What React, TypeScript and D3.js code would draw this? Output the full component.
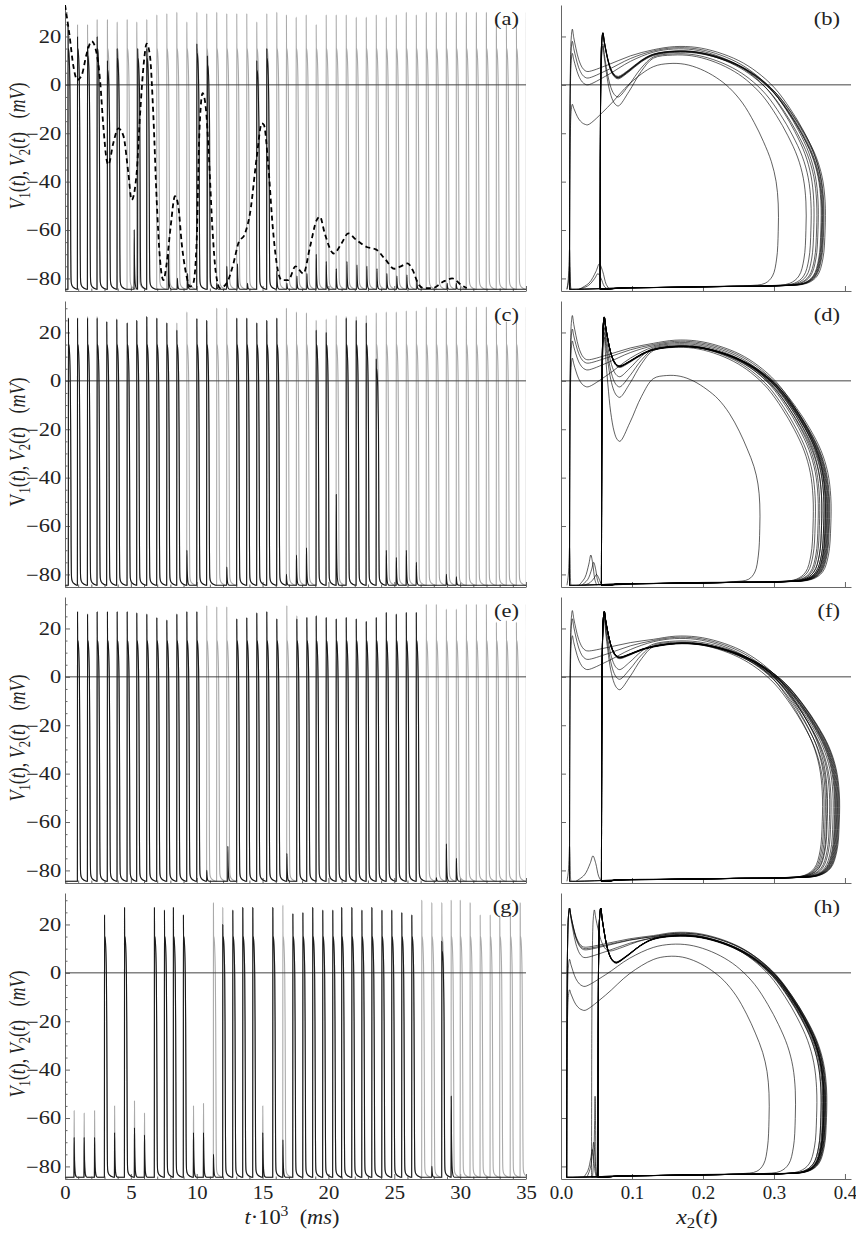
import { useEffect, useRef } from 'react';
import * as d3 from 'd3';

const W = 856;
const H = 1233;
const SERIF = '"Liberation Serif", "Times New Roman", serif';
const REST = -84.5;

// ---- panel (a): t in 10^3 ms, V in mV ----
const aGrayT = [0.22, 0.94, 1.70, 2.43, 3.21, 3.95, 4.71, 5.44, 6.20, 6.96, 7.72, 8.48, 9.24, 10.00, 10.75, 11.51, 12.27, 13.03, 13.79, 14.55, 15.31, 16.07, 16.80, 17.54, 18.30, 19.06, 19.82, 20.58, 21.34, 22.10, 22.86, 23.62, 24.38, 25.14, 25.90, 26.66, 27.42, 28.18, 28.94, 29.70, 30.46, 31.22, 31.98, 32.74, 33.50, 34.26, 35.02];
const aGrayV = [25, 25, 25, 27, 27, 26, 27, 26, 27, 29, 29.5, 30, 26, 30, 29.5, 30, 29.5, 29.5, 29.5, 26, 29.5, 30, 29, 28, 29, 25, 29, 29, 29, 28, 28, 29, 28, 29, 30, 29, 30, 30, 30, 30, 30, 30, 30, 25.5, 25, 25, 30];
const aBlackT = [0.22, 0.94, 1.70, 2.43, 3.21, 3.95, 5.24, 5.51, 6.20, 7.84, 8.52, 9.29, 10.00, 10.80, 11.51, 12.27, 13.08, 13.84, 14.55, 15.31, 16.07, 16.83, 17.59, 18.35, 19.06, 19.82, 20.58, 21.39, 22.15, 22.90, 23.67, 24.42, 25.18, 25.94, 26.70, 29.00, 29.69];
const aBlackV = [25, 20, 16, 20, 10, 15, -60, 15, 15, -70, -80, -78, 17, 12, -82, -75, -74, -82, 10, 15, -77, -82, -79, -78, -70, -73, -76, -73, -74.5, -75, -76, -78, -79, -78.6, -80.7, -82, -82];
const dashT = [0, 0.33, 0.64, 0.93, 1.27, 1.65, 2.03, 2.4, 2.66, 2.91, 3.16, 3.29, 3.67, 4.05, 4.43, 4.81, 5.06, 5.44, 5.69, 6.0, 6.2, 6.45, 6.71, 6.96, 7.21, 7.47, 7.72, 8.02, 8.35, 8.6, 8.86, 9.19, 9.49, 9.74, 10.0, 10.2, 10.45, 10.7, 10.9, 11.2, 11.46, 11.77, 12.27, 12.78, 13.16, 13.67, 14.05, 14.56, 14.94, 15.1, 15.44, 15.77, 16.07, 16.45, 16.96, 17.5, 18.1, 18.6, 19.1, 19.36, 19.7, 20.4, 21.0, 21.5, 22.1, 22.9, 23.6, 24.3, 25.0, 25.5, 26.0, 26.4, 26.8, 27.2, 27.9, 28.7, 29.4, 30.1, 30.5];
const dashV = [33, 21, 7.6, 2, 4, 13, 18, 13, 2, -17, -31, -33, -24, -18, -21, -36.5, -47.6, -36.5, -13, 10, 17, 12, -13, -47.6, -72, -80.7, -73.8, -58.6, -46, -50, -65.5, -78, -83.4, -82, -64, -20, -3.4, -10, -27, -60, -78, -84, -82, -74, -65.5, -61.4, -53, -29.7, -15.9, -16.5, -33.8, -58.6, -73.8, -80.7, -80.7, -75, -78, -67, -56, -54.5, -61, -69.7, -65.5, -61.4, -64, -67, -68, -72, -76, -75, -73.8, -76.6, -82, -84, -84, -81.4, -80, -82.8, -84];

// ---- panel (c) ----
const cGrayT = [0.25, 0.94, 1.70, 2.43, 3.16, 3.92, 4.71, 5.44, 6.20, 6.96, 7.72, 8.48, 9.24, 10.00, 10.75, 11.51, 12.27, 13.03, 13.79, 14.55, 15.31, 16.07, 16.80, 17.56, 18.32, 19.06, 19.82, 20.58, 21.34, 22.10, 22.86, 23.62, 24.38, 25.14, 25.90, 26.66, 27.42, 28.18, 28.94, 29.70, 30.46, 31.22, 31.98, 32.74, 33.50, 34.26, 35.02];
const cGrayV = [26, 26, 26.5, 26.5, 24.5, 25.5, 24, 25, 26.5, 26, 24, 24, 28.5, 25.8, 25, 30, 30, 26, 26, 24, 25, 26, 30, 28.5, 28, 25, 25.5, 27, 26.5, 26.5, 27, 28, 28.5, 28.5, 29, 29, 30.5, 30, 30, 30.5, 30.5, 30.5, 30.5, 24.5, 24.5, 24.5, 30.5];
const cBlackT = [0.25, 0.94, 1.70, 2.43, 3.16, 3.92, 4.71, 5.44, 6.20, 6.96, 7.72, 8.48, 9.24, 10.00, 10.75, 12.27, 13.03, 13.79, 14.55, 15.31, 16.07, 16.80, 17.56, 18.32, 19.06, 19.82, 20.58, 21.34, 22.10, 22.86, 23.62, 24.38, 25.14, 25.90, 26.66, 28.94, 29.70];
const cBlackV = [26, 26, 26, 26, 24.5, 25.5, 24, 25, 26.5, 26, 24, 21, -70, 25.8, 25, -77, 26, 26, 24, 25, 26, -80, -72, -69, 21, 20, -47, 26, 25, 24, 9, -70, -73, -70, -75, -80, -81];

// ---- panel (e) ----
const eGrayT = [0.94, 1.70, 2.43, 3.21, 3.95, 4.71, 5.44, 6.20, 6.96, 7.72, 8.48, 9.24, 10.00, 10.75, 11.51, 12.27, 13.03, 13.79, 14.55, 15.31, 16.07, 16.83, 17.59, 18.35, 19.06, 19.82, 20.58, 21.34, 22.10, 22.86, 23.62, 24.38, 25.14, 25.90, 26.66, 27.42, 28.18, 28.94, 29.70, 30.46, 31.22, 31.98, 32.74, 33.50, 34.26, 35.02];
const eGrayV = [27, 26, 27, 27, 27, 27, 26.5, 26, 24.5, 23.5, 26, 27, 27, 29.5, 29, 29, 24, 24.5, 26.5, 27, 24, 29.5, 25.3, 24.6, 25.3, 24.6, 24, 24.6, 24, 23, 24.6, 26.7, 26, 26.7, 26.7, 30, 30, 28, 28, 30, 30, 30, 22.6, 23.3, 22.6, 30];
const eBlackT = [0.94, 1.70, 2.43, 3.21, 3.95, 4.71, 5.44, 6.20, 6.96, 7.72, 8.48, 9.24, 10.00, 10.75, 12.35, 13.03, 13.79, 14.55, 15.31, 16.07, 16.83, 17.59, 18.35, 19.06, 19.82, 20.58, 21.34, 22.10, 22.86, 23.62, 24.38, 25.14, 25.90, 26.66, 28.18, 28.94, 29.70];
const eBlackV = [27, 26, 27, 27, 27, 27, 26.5, 26, 24.5, 23.5, 26, 27, 27, -80, -70, 24, 24.5, 26.5, 27, 24, -73, 24, 24.6, 25.3, 24.6, 24, 24.6, 24, 23, 24.6, 26.7, 26, 26.7, 26.7, -83, -69, -75];

// ---- panel (g) ----
const gGrayT = [0.68, 1.44, 2.23, 2.99, 3.75, 4.51, 5.26, 6.02, 6.78, 7.54, 8.22, 8.98, 9.74, 10.50, 11.26, 11.97, 12.73, 13.49, 14.25, 15.00, 15.77, 16.53, 17.29, 18.05, 18.80, 19.56, 20.32, 21.00, 21.77, 22.53, 23.29, 24.05, 24.80, 25.56, 26.32, 27.08, 27.84, 28.60, 29.31, 30.00, 30.75, 31.51, 32.27, 33.00, 33.80, 34.55];
const gGrayV = [-57, -58, -57, 24, -55, 27, -53, -58, 27, 26, 27, 24, -55, -54, 29, 27, 26, 27, 27, -55, 27, 28, 24.5, 25, 27, 26, 26, 27, 27, 26, 27, 26, 26, 25, 24, 30, 29, 29, 30, 30, 29, 24, 24, 23.5, 24, 29];
const gBlackT = [0.68, 1.44, 2.23, 2.99, 3.75, 4.51, 5.26, 6.02, 6.78, 7.54, 8.22, 8.98, 9.74, 10.50, 11.26, 11.97, 12.73, 13.49, 14.25, 15.00, 15.77, 16.53, 17.29, 18.05, 18.80, 19.56, 20.32, 21.00, 21.77, 22.53, 23.29, 24.05, 24.80, 25.56, 26.32, 27.84, 28.60, 29.31];
const gBlackV = [-68, -68, -68, 24, -66, 27, -64, -67, 27, 26, 27, 24, -66, -66, -75, 20, 26, 27, 27, -66, 27, -69, 24.5, 25, 27, 26, 26, 27, 27, 26, 27, 26, 26, 25, 24, -80, 13, -51];

// action potential waveform: [dt, V, mode]
// mode 0 = absolute V, 1 = offset from tip, 2 = offset from plateau
const spikeShape = [[0, REST, 0], [0.006, -40, 0], [0.012, 0, 1], [0.02, -2, 2], [0.04, 0, 2], [0.08, -2, 2], [0.12, -7, 2], [0.155, -17, 2], [0.18, -20, 0], [0.2, -45, 0], [0.215, -68, 0], [0.23, -78, 0], [0.25, -81.5, 0], [0.3, -82.8, 0], [0.4, -83.6, 0], [0.55, -84.2, 0], [0.7, REST, 0]];
// subthreshold bump: [dt, fraction of peak height]
const bumpShape = [[0, 0], [0.008, 0.4], [0.015, 1], [0.03, 0.6], [0.06, 0.25], [0.1, 0.08], [0.16, 0.02], [0.25, 0]];

// ---- phase portraits: loops [x0, peak, dip, top, xMax] ----
const bLoops = [
  [0.012, 23, 5.5, 16, 0.369], [0.012, 18, 2.8, 15.5, 0.362], [0.012, 13, 0, 15, 0.356], [0.012, -8, -16.5, 9, 0.306],
  [0.055, 21.5, 3, 14, 0.368], [0.055, 21.5, 3.5, 14.2, 0.366], [0.055, 21, 2.5, 13.6, 0.372], [0.055, 21.5, 3, 14, 0.36],
  [0.055, 21.5, 3.2, 14.1, 0.37], [0.055, 21.3, 2.8, 13.8, 0.367],
  [0.055, 17, -5, 13, 0.352], [0.055, 16, -8.7, 12.5, 0.345],
];
const bSmall = [[0.012, -68, 0.3], [0.012, -75, 0.3], [0.054, -74, 2.4], [0.052, -78, 2.2]];
const dLoops = [
  [0.012, 27, 8.7, 17, 0.372], [0.012, 21.4, 7.3, 16.5, 0.37], [0.012, 16.5, 4.5, 16, 0.367], [0.012, 9.4, -2.5, 15.5, 0.364],
  [0.057, 26.3, 6, 14.4, 0.375], [0.057, 26.3, 6, 14.4, 0.37], [0.057, 26, 5.5, 14.2, 0.378], [0.057, 26.3, 6.2, 14.6, 0.372],
  [0.057, 26.5, 6, 14.4, 0.38], [0.057, 26.3, 5.8, 14.3, 0.367], [0.057, 26.4, 6.1, 14.5, 0.376], [0.057, 26.2, 5.9, 14.3, 0.373],
  [0.057, 26.3, 6, 14.4, 0.377], [0.057, 26.3, 6, 14.4, 0.374],
  [0.057, 24, 1.7, 15, 0.362], [0.057, 22, -2.5, 14.5, 0.358], [0.057, 20, -6.8, 14, 0.355], [0.057, 18, -25, 2.4, 0.28],
];
const dSmall = [[0.012, -69, 0.3], [0.042, -72, 1.4], [0.046, -75, 1.4], [0.05, -80, 1.5]];
const fLoops = [
  [0.012, 27.4, 10.7, 17, 0.375], [0.012, 24, 7.2, 16.5, 0.372], [0.012, 17, 3, 16, 0.368],
  [0.057, 27, 8, 14, 0.385], [0.057, 27, 8, 14, 0.388], [0.057, 27, 8.2, 14.2, 0.39], [0.057, 27, 7.8, 13.8, 0.383],
  [0.057, 27, 8, 14, 0.392], [0.057, 26.8, 7.5, 14, 0.38], [0.057, 27, 8.1, 14.1, 0.387], [0.057, 27, 7.9, 13.9, 0.389],
  [0.057, 27, 8, 14, 0.386], [0.057, 27, 8, 14.1, 0.391],
  [0.057, 26, 3, 15, 0.378], [0.057, 25, -1, 14.5, 0.374], [0.057, 24, -5.3, 14, 0.37],
];
const fSmall = [[0.012, -70, 0.3], [0.045, -74, 2]];
const hLoops = [
  [0.008, 26.8, 10.6, 16.9, 0.369], [0.008, 26.8, 9.5, 16.5, 0.37], [0.008, 26.5, 6.3, 16, 0.366], [0.008, 26.8, 10, 16.5, 0.372],
  [0.008, 5.6, -5.6, 12, 0.33], [0.008, -7, -15.5, 7, 0.293],
  [0.052, 26.8, 4.2, 15.5, 0.37], [0.052, 26.8, 4.5, 15.5, 0.372], [0.052, 26.5, 4, 15.3, 0.368], [0.052, 26.8, 4.2, 15.6, 0.374],
  [0.052, 26.8, 4.4, 15.5, 0.366], [0.052, 26.8, 4.2, 15.4, 0.371], [0.052, 26.7, 4.3, 15.5, 0.369], [0.052, 26.8, 4.1, 15.5, 0.373],
  [0.052, 26.8, 4.2, 15.5, 0.37], [0.043, 26, 9, 16, 0.36],
];
const hSmall = [[0.048, -51, 0.3], [0.046, -70, 0.8], [0.044, -73, 1]];

// loop template pieces read from the portraits
const upShape = [[0, 0], [0.0004, 0.55], [0.0012, 0.85], [0.0025, 0.97], [0.004, 1]];
const decayShape = [[0.006, 0.8], [0.009, 0.55], [0.013, 0.28], [0.018, 0.09], [0.022, 0.02], [0.026, 0]];
const riseShape = [[0.3, 0.3], [0.65, 0.72]];
const BODY_X0 = 0.13;
// [u, V, weight of top shift]
const bodyShape = [
  [0, 12.5, 1], [0.126, 13.8, 1], [0.252, 13.5, 1], [0.378, 11.5, 1], [0.504, 8, 1], [0.609, 3.5, 0.95],
  [0.714, -3, 0.9], [0.807, -11.5, 0.8], [0.882, -20, 0.7], [0.945, -29, 0.55], [0.983, -38, 0.4], [1, -48, 0.25],
  [1, -60, 0.1], [0.987, -72, 0], [0.954, -79, 0], [0.895, -82, 0], [0.756, -83, 0], [0.462, -83.3, 0], [0.084, -83.7, 0], [-0.21, -84, 0],
];
const smallShape = [[-0.012, 0], [-0.006, 0.25], [-0.002, 0.7], [0, 1], [0.002, 0.7], [0.004, 0.2], [0.006, 0]];

const tops = [5, 301, 597, 893];
const PH = 286;

function tracePoints(ts: number[], vs: number[]) {
  const pts: [number, number][] = [[0, REST]];
  ts.forEach((t, i) => {
    const next = i < ts.length - 1 ? ts[i + 1] : 36;
    const P = vs[i];
    if (P > -30) {
      const L = Math.min(15, P - 4);
      spikeShape.forEach(([dt, v, m]) => {
        if (t + dt < next) pts.push([t + dt, m === 0 ? v : m === 1 ? P + v : L + v]);
      });
    } else {
      bumpShape.forEach(([dt, f]) => {
        if (t + dt < next) pts.push([t + dt, REST + f * (P - REST)]);
      });
    }
  });
  pts.push([36, REST]);
  return pts;
}

function loopPoints([x0, peak, dip, top, xMax]: number[]) {
  const pts: [number, number][] = [];
  upShape.forEach(([dx, f]) => pts.push([x0 + dx, REST + f * (peak - REST)]));
  decayShape.forEach(([dx, f]) => pts.push([x0 + dx, dip + f * (peak - dip)]));
  const dipX = x0 + 0.026;
  const v0 = bodyShape[0][1] + bodyShape[0][2] * (top - 14);
  riseShape.forEach(([u, g]) => pts.push([dipX + u * (BODY_X0 - dipX), dip + g * (v0 - dip)]));
  bodyShape.forEach(([u, v, w]) => pts.push([BODY_X0 + u * (xMax - BODY_X0), v + w * (top - 14)]));
  pts.push([x0 + 0.01, REST]);
  pts.push([x0, REST]);
  return pts;
}

function smallPoints([x0, peak, width]: number[]) {
  return smallShape.map(([dx, f]) => [x0 + dx * width, REST + f * (peak - REST)] as [number, number]);
}

type Part = [string, string?];
function richText(sel: d3.Selection<SVGTextElement, unknown, null, undefined>, parts: Part[]) {
  parts.forEach(([s, kind]) => {
    const ts = sel.append('tspan').text(s);
    if (kind === 'i') ts.attr('font-style', 'italic');
    if (kind === 'sub') ts.attr('font-size', '70%').attr('dy', 4);
    if (kind === 'sup') ts.attr('font-size', '70%').attr('dy', -8);
    if (kind === 'back') ts.attr('dy', -4);
    if (kind === 'down') ts.attr('dy', 8);
  });
}

export default function App() {
  const svgRef = useRef<SVGSVGElement | null>(null);

  useEffect(() => {
    if (!svgRef.current) return;
    const svg = d3.select(svgRef.current);
    svg.selectAll('*').remove();

    const xL = d3.scaleLinear().domain([0, 35]).range([65, 526]);
    const xR = d3.scaleLinear().domain([0, 0.4085]).range([561, 851]);

    const leftPanels = [
      { gT: aGrayT, gV: aGrayV, bT: aBlackT, bV: aBlackV, label: '(a)', dashed: true },
      { gT: cGrayT, gV: cGrayV, bT: cBlackT, bV: cBlackV, label: '(c)', dashed: false },
      { gT: eGrayT, gV: eGrayV, bT: eBlackT, bV: eBlackV, label: '(e)', dashed: false },
      { gT: gGrayT, gV: gGrayV, bT: gBlackT, bV: gBlackV, label: '(g)', dashed: false },
    ];
    const rightPanels = [
      { loops: bLoops, small: bSmall, label: '(b)' },
      { loops: dLoops, small: dSmall, label: '(d)' },
      { loops: fLoops, small: fSmall, label: '(f)' },
      { loops: hLoops, small: hSmall, label: '(h)' },
    ];

    const defs = svg.append('defs');
    const AX = '#666';

    const styleAxis = (g: d3.Selection<SVGGElement, unknown, null, undefined>, stretch: number) => {
      g.attr('font-family', SERIF).attr('font-size', 18);
      g.select('.domain').attr('stroke', AX);
      g.selectAll('.tick line').attr('stroke', AX);
      g.selectAll('.tick text').attr('fill', '#222').attr('transform', `scale(${stretch},1)`);
    };

    leftPanels.forEach((p, i) => {
      const top = tops[i];
      const y = d3.scaleLinear().domain([-85.2, 33]).range([top + PH, top]);
      const last = i === 3;

      defs.append('clipPath').attr('id', `clipL${i}`)
        .append('rect').attr('x', 65).attr('y', top).attr('width', 461).attr('height', PH);

      // axes
      const gx = svg.append('g').attr('transform', `translate(0,${top + PH})`)
        .call(d3.axisBottom(xL).tickValues(d3.range(0, 36, 5)).tickSize(-5).tickSizeOuter(0).tickPadding(7)
          .tickFormat(last ? d3.format('d') : () => ''));
      styleAxis(gx, 1.15);
      const gxm = svg.append('g').attr('transform', `translate(0,${top + PH})`)
        .call(d3.axisBottom(xL).tickValues(d3.range(0, 36, 1).filter(v => v % 5 !== 0)).tickSize(-2.5).tickFormat(() => ''));
      gxm.select('.domain').remove();
      gxm.selectAll('.tick line').attr('stroke', AX);

      const gy = svg.append('g').attr('transform', 'translate(65,0)')
        .call(d3.axisLeft(y).tickValues([-80, -60, -40, -20, 0, 20]).tickSize(-5).tickSizeOuter(0).tickPadding(3));
      styleAxis(gy, 1.25);
      const gym = svg.append('g').attr('transform', 'translate(65,0)')
        .call(d3.axisLeft(y).tickValues(d3.range(-85, 31, 5).filter(v => v % 20 !== 0)).tickSize(-2.5).tickFormat(() => ''));
      gym.select('.domain').remove();
      gym.selectAll('.tick line').attr('stroke', AX);

      const plot = svg.append('g').attr('clip-path', `url(#clipL${i})`);
      const line = d3.line<[number, number]>().x(d => xL(d[0])).y(d => y(d[1])).curve(d3.curveMonotoneX);

      plot.append('path').attr('d', line(tracePoints(p.gT, p.gV)))
        .attr('fill', 'none').attr('stroke', '#aaa').attr('stroke-width', 1.1);
      plot.append('line').attr('x1', 65).attr('x2', 526).attr('y1', y(0)).attr('y2', y(0))
        .attr('stroke', '#444').attr('stroke-width', 1);
      plot.append('path').attr('d', line(tracePoints(p.bT, p.bV)))
        .attr('fill', 'none').attr('stroke', '#1a1a1a').attr('stroke-width', 1.1);
      if (p.dashed) {
        const pts = dashT.map((t, k) => [t, dashV[k]] as [number, number]);
        plot.append('path').attr('d', line(pts)).attr('fill', 'none').attr('stroke', '#000')
          .attr('stroke-width', 1.8).attr('stroke-dasharray', '5 3.5');
      }

      svg.append('text').attr('transform', `translate(519,${top + 20}) scale(1.25,1)`).attr('text-anchor', 'end')
        .attr('font-family', SERIF).attr('font-size', 18).attr('fill', '#222').text(p.label);

      // y title
      const yt = svg.append('text').attr('transform', `translate(25,${top + 141}) scale(1.3,1) rotate(-90)`)
        .attr('text-anchor', 'middle').attr('font-family', SERIF).attr('font-size', 18).attr('fill', '#222');
      richText(yt, [
        ['V', i === 1 ? undefined : 'i'], ['1', 'sub'], ['(', 'back'], ['t', 'i'], ['), '],
        ['V', 'i'], ['2', 'sub'], ['(', 'back'], ['t', 'i'], [')\u2002 ('], ['mV', 'i'], [')'],
      ]);
    });

    rightPanels.forEach((p, i) => {
      const top = tops[i];
      const y = d3.scaleLinear().domain([-85.2, 33]).range([top + PH, top]);
      const last = i === 3;

      defs.append('clipPath').attr('id', `clipR${i}`)
        .append('rect').attr('x', 561).attr('y', top).attr('width', 290).attr('height', PH);

      const gx = svg.append('g').attr('transform', `translate(0,${top + PH})`)
        .call(d3.axisBottom(xR).tickValues([0, 0.1, 0.2, 0.3, 0.4]).tickSize(-5).tickSizeOuter(0).tickPadding(7)
          .tickFormat(last ? d3.format('.1f') : () => ''));
      styleAxis(gx, 1.05);
      const gy = svg.append('g').attr('transform', 'translate(561,0)')
        .call(d3.axisLeft(y).tickValues([-80, -60, -40, -20, 0, 20]).tickSize(-5).tickSizeOuter(0).tickFormat(() => ''));
      styleAxis(gy, 1);

      const plot = svg.append('g').attr('clip-path', `url(#clipR${i})`);
      plot.append('line').attr('x1', 561).attr('x2', 851).attr('y1', y(0)).attr('y2', y(0))
        .attr('stroke', '#444').attr('stroke-width', 1);

      const line = d3.line<[number, number]>().x(d => xR(d[0])).y(d => y(d[1])).curve(d3.curveCatmullRom.alpha(0.5));
      p.small.forEach(s => {
        plot.append('path').attr('d', line(smallPoints(s))).attr('fill', 'none')
          .attr('stroke', '#000').attr('stroke-opacity', 0.7).attr('stroke-width', 0.9);
      });
      p.loops.forEach(l => {
        plot.append('path').attr('d', line(loopPoints(l))).attr('fill', 'none')
          .attr('stroke', '#000').attr('stroke-opacity', 0.62).attr('stroke-width', 1);
      });

      svg.append('text').attr('transform', `translate(840,${top + 20}) scale(1.25,1)`).attr('text-anchor', 'end')
        .attr('font-family', SERIF).attr('font-size', 18).attr('fill', '#222').text(p.label);
    });

    // x titles
    const tx = svg.append('text').attr('transform', 'translate(292,1224) scale(1.12,1)').attr('text-anchor', 'middle')
      .attr('font-family', SERIF).attr('font-size', 20).attr('fill', '#222');
    richText(tx, [['t', 'i'], ['\u00b710'], ['3', 'sup'], ['\u2002(', 'down'], ['ms', 'i'], [')']]);
    const tx2 = svg.append('text').attr('transform', 'translate(697,1224) scale(1.2,1)').attr('text-anchor', 'middle')
      .attr('font-family', SERIF).attr('font-size', 20).attr('fill', '#222');
    richText(tx2, [['x', 'i'], ['2', 'sub'], ['(', 'back'], ['t', 'i'], [')']]);
  }, []);

  return (
    <svg ref={svgRef} width={W} height={H}
      style={{ position: 'absolute', left: 0, top: 0, background: '#fff' }} />
  );
}
